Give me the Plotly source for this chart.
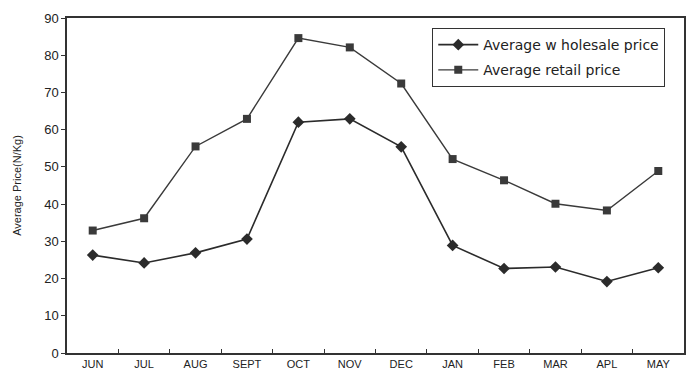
import plotly.graph_objects as go

months = ["JUN", "JUL", "AUG", "SEPT", "OCT", "NOV", "DEC", "JAN", "FEB", "MAR", "APL", "MAY"]
wholesale = [26.3, 24.2, 26.9, 30.6, 62.0, 62.9, 55.4, 28.9, 22.7, 23.1, 19.2, 22.9]
retail = [32.9, 36.2, 55.5, 62.9, 84.6, 82.1, 72.4, 52.1, 46.4, 40.1, 38.3, 48.9]

line_col = "#2b2b2b"

fig = go.Figure()
fig.add_trace(go.Scatter(
    x=months, y=wholesale, mode="lines+markers", name="Average w holesale price",
    legendgroup="w",
    line=dict(color=line_col, width=1.6),
    marker=dict(symbol="diamond", size=9, color=line_col),
))
fig.add_trace(go.Scatter(
    x=months, y=retail, mode="lines+markers", name="Average retail price",
    legendgroup="r",
    line=dict(color="#3a3a3a", width=1.4),
    marker=dict(symbol="square", size=8, color="#3a3a3a"),
))

fig.update_layout(
    width=687, height=380,
    margin=dict(l=67, r=1, t=18, b=27),
    paper_bgcolor="white", plot_bgcolor="white",
    font=dict(family="Liberation Sans, Arial, sans-serif", color="#222", size=11),
    showlegend=True,
    legend=dict(
        x=0.592, y=0.97, xanchor="left", yanchor="top",
        bordercolor="#333", borderwidth=1, bgcolor="white",
        font=dict(family="DejaVu Sans, sans-serif", size=14, color="#222"),
        tracegroupgap=4, itemwidth=40,
    ),
    xaxis=dict(
        type="category", range=[-0.5, 11.5],
        showline=True, linecolor="#333", linewidth=1.5, mirror=True,
        ticks="inside", ticklen=4, tickcolor="#333", tickson="boundaries",
        showgrid=False, zeroline=False,
        tickfont=dict(size=11, color="#222"),
    ),
    yaxis=dict(
        range=[0, 90], dtick=10,
        showline=True, linecolor="#333", linewidth=1.5, mirror=True,
        ticks="outside", ticklen=4, tickcolor="#333",
        showgrid=False, zeroline=False,
        tickfont=dict(size=13, color="#222"),
        title=dict(text="Average Price(N/Kg)", font=dict(size=11, color="#222"), standoff=20),
    ),
)

fig.write_html("out.html")
